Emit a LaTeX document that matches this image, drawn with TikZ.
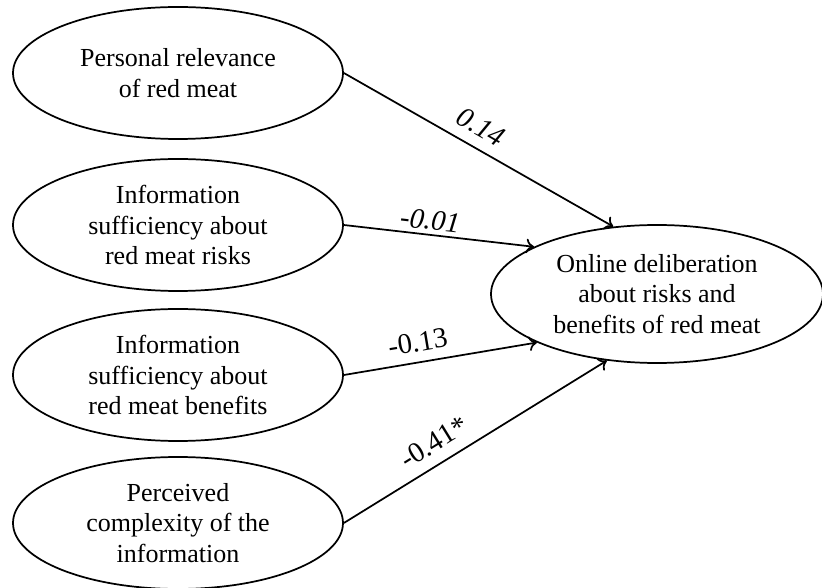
\documentclass[tikz,border=0pt]{standalone}
\usepackage{fontspec}
\setmainfont{Liberation Serif}
\usepackage{tikz}
\usetikzlibrary{positioning,arrows.meta}
\usetikzlibrary{shapes,shapes.geometric,shapes.arrows}
\tikzstyle{predictor} = [ellipse, draw, line width=1.3pt, text centered, align=center, inner sep=1pt, minimum width=247.5pt, minimum height=99pt, font=\fontsize{19.5}{23}\selectfont]
\tikzstyle{outcome} = [ellipse, draw, line width=1.3pt, text centered, align=center, inner sep=1pt, minimum width=249pt, minimum height=103.5pt, font=\fontsize{19.5}{23}\selectfont]
\tikzstyle{coef} = [draw=none, fill=none, sloped, inner sep=1pt, font=\fontsize{21.5}{23}\selectfont]
\tikzstyle{path} = [draw, line width=1.3pt, -{To[length=6pt,width=11pt]}]

\begin{document}
\begin{tikzpicture}[auto]
	\useasboundingbox (-133.5pt,54.75pt) rectangle (483pt,-386.25pt);

	% place nodes
	\node [predictor] (N1) {Personal relevance\\of red meat};
	\node [predictor, below of=N1, node distance=114pt] (N2) {Information\\sufficiency about\\red meat risks};
	\node [predictor, below of=N2, node distance=112.5pt] (N3) {Information\\sufficiency about\\red meat benefits};
	\node [predictor, below of=N3, node distance=111pt] (N4) {Perceived\\complexity of the\\information};
	\node [outcome] (N5) at (359.25pt,-165.75pt) {Online deliberation\\about risks and\\benefits of red meat};

	% draw edges
	\path [path] (N1.east) -- node [coef, above=7pt, pos=0.47] {\itshape 0.14} (N5.123);
	\path [path] (N2.east) -- node [coef, above=2pt, pos=0.445] {\itshape -0.01} (N5.159);
	\path [path] (N3.east) -- node [coef, above=6pt, pos=0.4] {-0.13} (N5.202);
	\path [path] (N4.east) -- node [coef, above=7pt, pos=0.385] {-0.41*} (N5.233);
\end{tikzpicture}
\end{document}
